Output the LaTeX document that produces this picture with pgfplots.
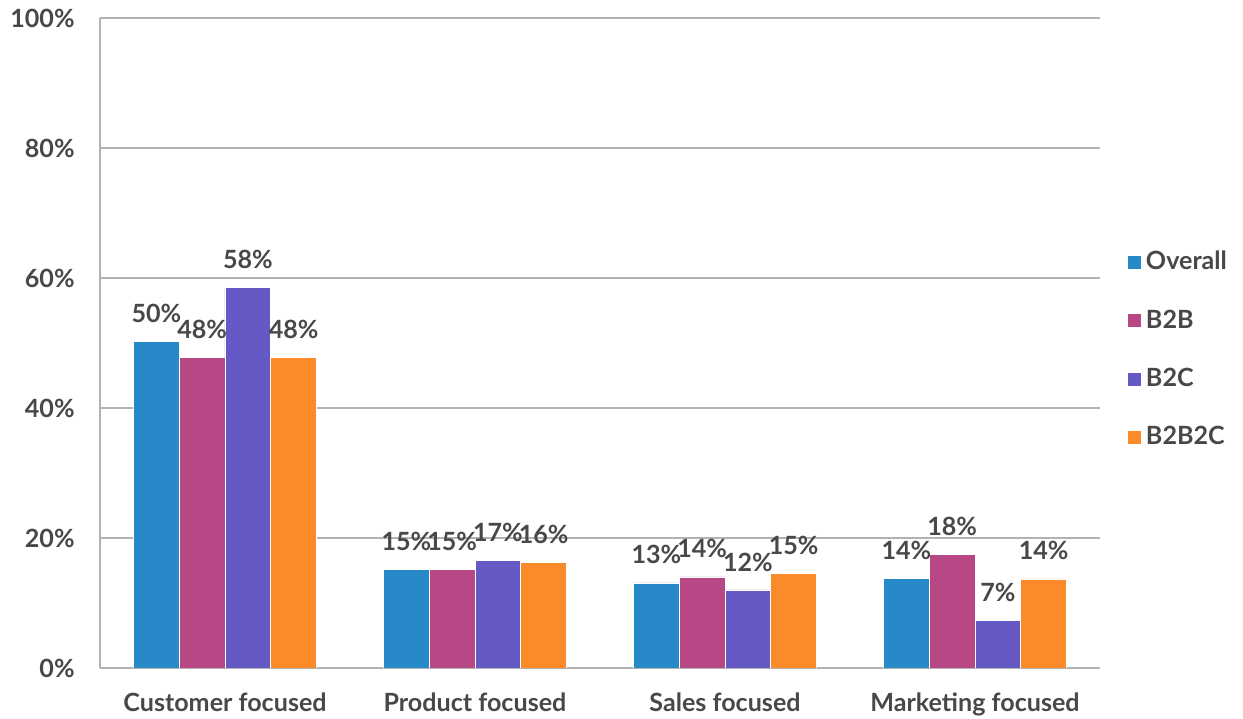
\documentclass[border=0pt]{standalone}
\usepackage{fontspec}
\setmainfont{Lato}
\usepackage{pgfplots}
\pgfplotsset{compat=1.18}
\definecolor{txtgray}{HTML}{484848}
\definecolor{gridgray}{HTML}{B2B2B2}
\definecolor{ovblue}{HTML}{2789C7}
\definecolor{bbmag}{HTML}{B84785}
\definecolor{bcpurp}{HTML}{6559C5}
\definecolor{bborange}{HTML}{FA8A2A}
\newcommand{\lblfont}{\bfseries\fontsize{12.6}{15}\selectfont}

\begin{document}
\begin{tikzpicture}
\useasboundingbox (-50bp,-25.5bp) rectangle (571.5bp,334bp);
\begin{axis}[
  at={(0,0)},anchor=south west,
  scale only axis,width=500bp,height=325bp,
  ybar=0pt,bar width=0.183,
  xmin=-0.5,xmax=3.5,ymin=0,ymax=100,
  xtick={0,1,2,3},
  xticklabels={Customer focused,Product focused,Sales focused,Marketing focused},
  ytick={0,20,40,60,80,100},
  yticklabels={0\%,20\%,40\%,60\%,80\%,100\%},
  axis x line*=bottom,axis y line*=left,
  axis line style={gridgray,line width=1.1bp,-},
  major tick length=0pt,
  ymajorgrids,grid style={gridgray,line width=0.9bp},
  /pgf/number format/assume math mode=true,
  font=\lblfont,
  tick label style={txtgray,font=\lblfont},
  xticklabel style={anchor=base,inner sep=0pt,yshift=-21.5bp},
  yticklabel style={anchor=east,inner sep=0pt,xshift=-12.5bp},
  point meta=explicit symbolic,
  nodes near coords={\pgfplotspointmeta\%},
  every node near coord/.append style={txtgray,anchor=base,inner sep=0pt,yshift=9.5bp,
    font=\lblfont},
  legend style={at={(1.027,0.49)},anchor=west,draw=none,fill=none,
    font=\lblfont,text=txtgray,
    row sep=14.5bp,inner sep=0pt,
    /tikz/every even column/.append style={column sep=3bp}},
  legend image code/.code={\fill[#1] (0bp,-3.5bp) rectangle (7bp,3.5bp);},
  legend cell align=left,
]
\addplot[fill=ovblue,draw=white,line width=0.3bp] coordinates {(0,50.2)[50] (1,15.2)[15] (2,13.1)[13] (3,13.8)[14]};
\addlegendentry{Overall}
\addplot[fill=bbmag,draw=white,line width=0.3bp] coordinates {(0,47.8)[48] (1,15.2)[15] (2,14.0)[14] (3,17.5)[18]};
\addlegendentry{B2B}
\addplot[fill=bcpurp,draw=white,line width=0.3bp] coordinates {(0,58.5)[58] (1,16.6)[17] (2,12.0)[12] (3,7.3)[7]};
\addlegendentry{B2C}
\addplot[fill=bborange,draw=white,line width=0.3bp] coordinates {(0,47.8)[48] (1,16.2)[16] (2,14.6)[15] (3,13.7)[14]};
\addlegendentry{B2B2C}
\end{axis}
\end{tikzpicture}
\end{document}
